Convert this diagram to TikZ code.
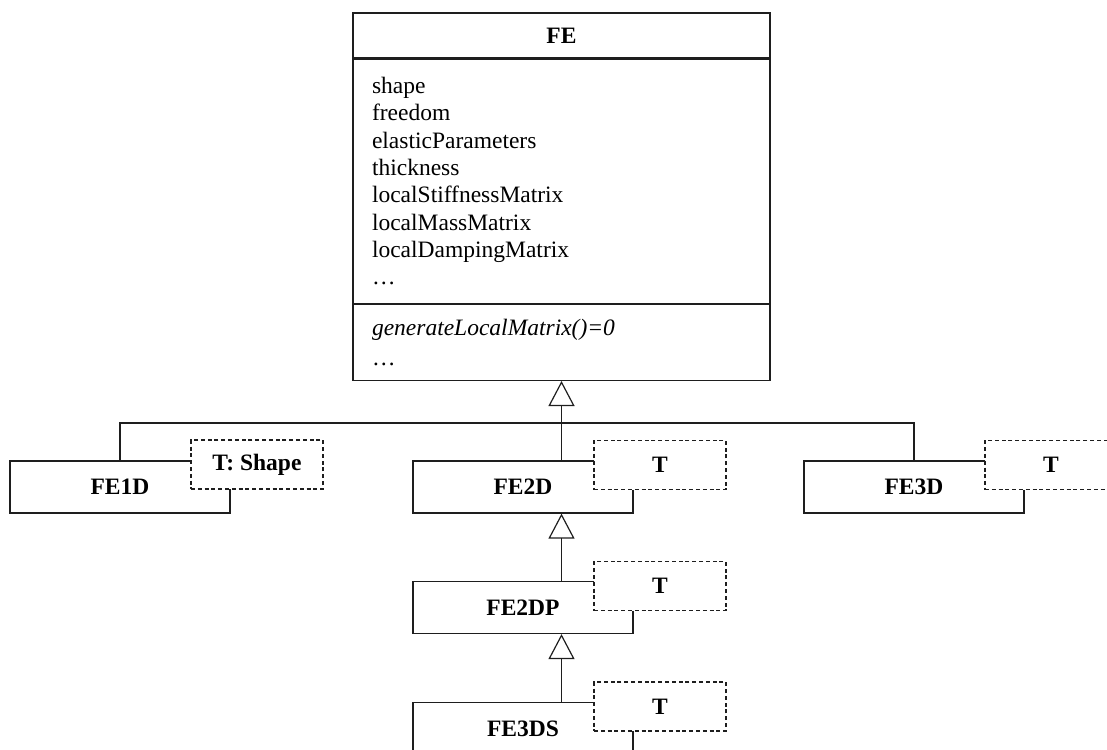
\documentclass[tikz,border=0pt]{standalone}
\usepackage{fontspec}
\setmainfont{Liberation Serif}
\usepackage{tikz}
\usetikzlibrary{arrows.meta,positioning,calc}
\usepackage{xcolor}
\definecolor{ink}{RGB}{30,30,30}
\tikzset{
  cls/.style={rectangle,draw=ink,fill=white,line width=0.6pt,minimum width=110pt,minimum height=26pt,
    font=\fontsize{11.75}{13.65}\selectfont\bfseries,inner sep=0pt},
  tpar/.style={rectangle,draw=ink,fill=white,dashed,dash pattern=on 2pt off 1.4pt,line width=0.6pt,
    minimum width=66pt,minimum height=24.5pt,font=\fontsize{11.75}{13.65}\selectfont\bfseries,inner sep=0pt},
  membox/.style={rectangle,draw=ink,line width=0.6pt,text width=189.5pt,inner xsep=9.5pt,inner ysep=0pt,
    align=left,font=\fontsize{11.75}{13.65}\selectfont},
  inh/.style={-{Triangle[open,length=12.5pt,width=13pt]},draw=ink,line width=0.6pt},
  bus/.style={draw=ink,line width=0.6pt},
}

\begin{document}
\begin{tikzpicture}[x=0.5pt,y=-0.5pt]
\useasboundingbox (0,0) rectangle (1107,749);
% base class
\node[cls,minimum width=208.5pt,minimum height=22.5pt] (fe) at (561.5,35.5) {FE};
\node[membox,minimum height=122pt,anchor=north] (feattr) at (fe.south)
  {shape\\freedom\\elasticParameters\\thickness\\localStiffnessMatrix\\localMassMatrix\\localDampingMatrix\\\ldots};
\node[membox,minimum height=38pt,anchor=north] (femeth) at (feattr.south)
  {\textit{generateLocalMatrix()=0}\\[1pt]\ldots};

% derived classes
\node[cls] (fe1d) at (120,487) {FE1D};
\node[cls] (fe2d) at (523,487) {FE2D};
\node[cls] (fe3d) at (914,487) {FE3D};
\node[cls] (fe2dp) at (523,607.5) {FE2DP};
\node[cls] (fe3ds) at (523,728.5) {FE3DS};

% template parameters
\node[tpar] (fe1dT) at (257,464.5) {T: Shape};
\node[tpar] (fe2dT) at (660,465) {T};
\node[tpar] (fe3dT) at (1051,465) {T};
\node[tpar] (fe2dpT) at (660,586) {T};
\node[tpar] (fe3dsT) at (660,706.5) {T};

% inheritance
\coordinate (bus) at (561.5,423);
\draw[bus] (fe1d.north) |- (bus) -| (fe3d.north);
\draw[inh] (fe2d.north -| femeth.south) -- (femeth.south);
\draw[inh] (fe2dp.north -| femeth.south) -- (fe2d.south -| femeth.south);
\draw[inh] (fe3ds.north -| femeth.south) -- (fe2dp.south -| femeth.south);
\end{tikzpicture}
\end{document}
